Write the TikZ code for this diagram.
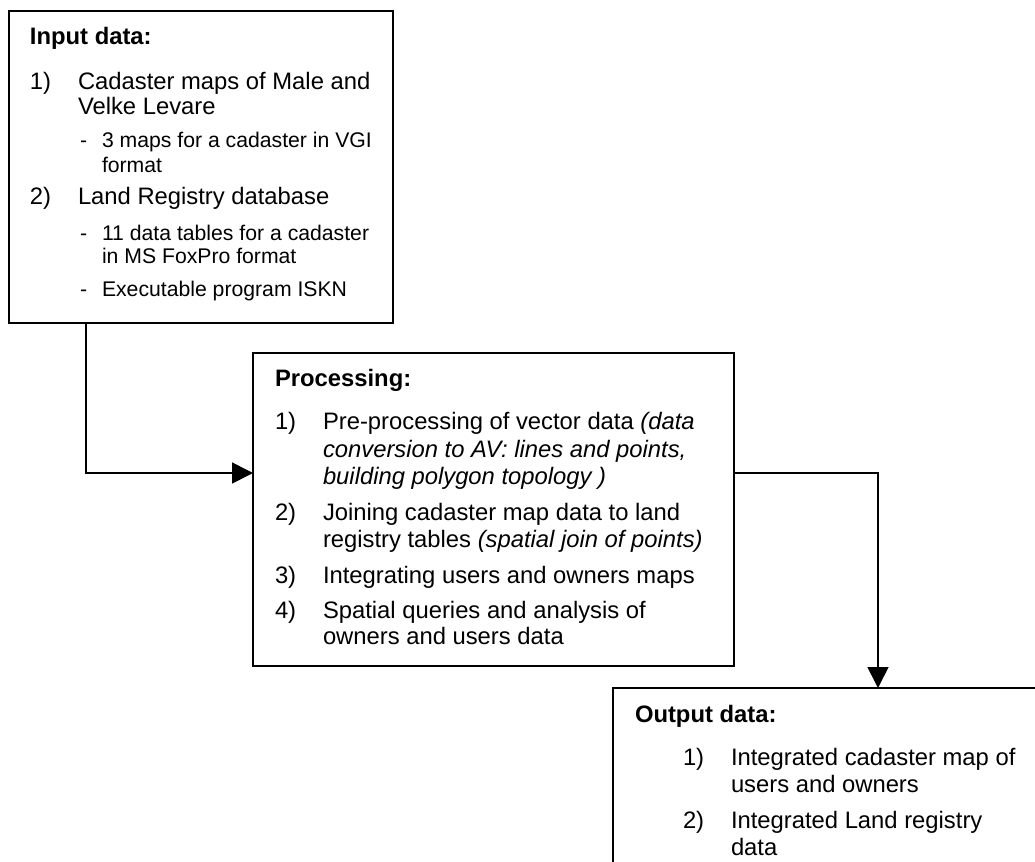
\documentclass[tikz,border=0pt]{standalone}
\usepackage{fontspec}
\setmainfont{Liberation Sans}
\usetikzlibrary{arrows.meta}

\newcommand\mainsz{\fontsize{11.9pt}{13pt}\selectfont}
\newcommand\subsz{\fontsize{10.6pt}{12pt}\selectfont}
% one line of text, placed by its baseline
\newcommand\putline[5][lbl]{\node[#1] (#2) at (#3,#4) {#5};}

\begin{document}
\begin{tikzpicture}[x=0.5pt, y=-0.5pt,
  area/.style={anchor=north west, inner sep=0pt, outer sep=0pt},
  frame/.style={area, draw, line width=0.85pt},
  edge line/.style={line width=0.85pt},
  lbl/.style={anchor=base west, inner sep=0pt, outer sep=0pt, font=\mainsz},
  sublbl/.style={lbl, font=\subsz},
  head/.style={lbl, font=\mainsz\bfseries},
  flow/.style={line width=0.85pt, -{Triangle[length=10.5pt, width=10.5pt]}}]

\useasboundingbox (0,0) rectangle (1035,862);

% boxes
\node[frame, minimum width=192pt, minimum height=156pt] (input) at (9,11) {};
\node[frame, minimum width=240.5pt, minimum height=156.5pt] (proc) at (253,353) {};
% the output box runs on past the right and bottom edges: only its left and top sides show
\node[area, minimum width=211pt, minimum height=87pt] (out) at (613,688) {};
\draw[edge line] (out.south west) -- (out.north west) -- (out.north east);

% input data
\putline[head]{inhead}{30}{44}{Input data:}
\putline{in1n}{30}{90}{1)}
\putline{in1a}{78}{90}{Cadaster maps of Male and}
\putline{in1b}{78}{114}{Velke Levare}
\putline[sublbl]{in1sd}{80}{147}{-}
\putline[sublbl]{in1sa}{102}{147}{3 maps for a cadaster in VGI}
\putline[sublbl]{in1sb}{102}{172}{format}
\putline{in2n}{30}{204}{2)}
\putline{in2a}{78}{204}{Land Registry database}
\putline[sublbl]{in2sd}{80}{240}{-}
\putline[sublbl]{in2sa}{102}{240}{11 data tables for a cadaster}
\putline[sublbl]{in2sb}{102}{263}{in MS FoxPro format}
\putline[sublbl]{in2td}{80}{296}{-}
\putline[sublbl]{in2ta}{102}{296}{Executable program ISKN}

% processing
\putline[head]{prhead}{275}{386}{Processing:}
\putline{pr1n}{275}{429}{1)}
\putline{pr1a}{323}{429}{Pre-processing of vector data \textit{(data}}
\putline{pr1b}{323}{457}{\textit{conversion to AV: lines and points,}}
\putline{pr1c}{323}{484}{\textit{building polygon topology )}}
\putline{pr2n}{275}{520}{2)}
\putline{pr2a}{323}{520}{Joining cadaster map data to land}
\putline{pr2b}{323}{547}{registry tables \textit{(spatial join of points)}}
\putline{pr3n}{275}{583}{3)}
\putline{pr3a}{323}{583}{Integrating users and owners maps}
\putline{pr4n}{275}{618}{4)}
\putline{pr4a}{323}{618}{Spatial queries and analysis of}
\putline{pr4b}{323}{644}{owners and users data}

% output data
\putline[head]{ouhead}{635}{722}{Output data:}
\putline{ou1n}{683}{765}{1)}
\putline{ou1a}{731}{765}{Integrated cadaster map of}
\putline{ou1b}{731}{792}{users and owners}
\putline{ou2n}{683}{828}{2)}
\putline{ou2a}{731}{828}{Integrated Land registry}
\putline{ou2b}{731}{855}{data}

% connectors
\coordinate (bendA) at (86,473);
\coordinate (bendB) at (878,473);
\draw[flow] (bendA |- input.south) -- (bendA) -- (bendA -| proc.west);
\draw[flow] (bendB -| proc.east) -- (bendB) -- (bendB |- out.north);
\end{tikzpicture}
\end{document}
